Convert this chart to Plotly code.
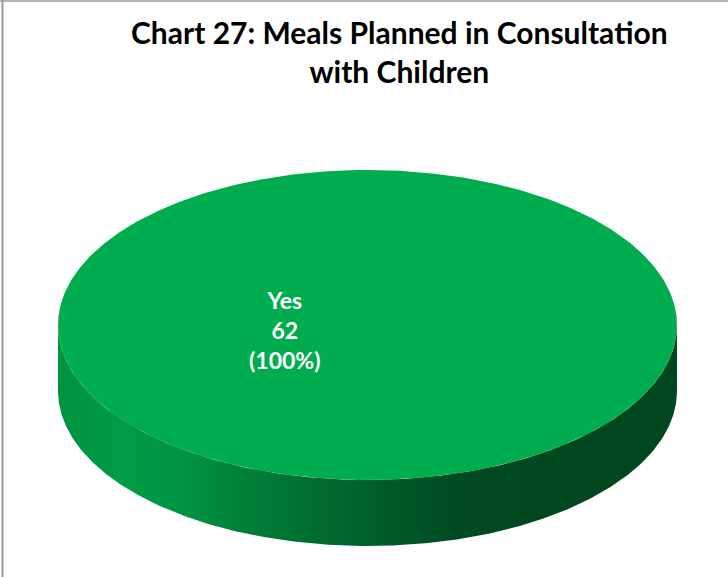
import numpy as np
import plotly.graph_objects as go

# ---- data ----
categories = ["Yes"]
values = [62]
slice_colors = ["#00AD4E"]
title_lines = ["Chart 27: Meals Planned in Consultation", "with Children"]

# ---- geometry / style (layout, not data) ----
W, H = 728, 577
cx, cy = 367.5, 325.0
rx, ry = 309.5, 155.0
depth = 66.0
start_deg = 90.0  # first slice starts at top, clockwise

side_scale = [
    [0.00, "rgb(0,146,64)"],
    [0.10, "rgb(0,156,70)"],
    [0.20, "rgb(0,148,66)"],
    [0.31, "rgb(0,126,56)"],
    [0.45, "rgb(0,104,46)"],
    [0.55, "rgb(0,88,40)"],
    [0.66, "rgb(0,73,33)"],
    [1.00, "rgb(0,70,31)"],
]

total = float(sum(values))
fig = go.Figure()

bounds = []
acc = 0.0
for v in values:
    a0 = np.deg2rad(-start_deg) + 2 * np.pi * acc / total
    acc += v
    a1 = np.deg2rad(-start_deg) + 2 * np.pi * acc / total
    bounds.append((a0, a1))

# side walls (front half only)
for (a0, a1), col in zip(bounds, slice_colors):
    t = np.linspace(a0, a1, 720)
    tt = np.mod(t, 2 * np.pi)
    front = (tt >= 0) & (tt <= np.pi)
    if not front.any():
        continue
    ts = np.sort(tt[front])
    xs = cx + rx * np.cos(ts)
    ys = cy + ry * np.sin(ts)
    px = np.concatenate([xs, xs[::-1]])
    py = np.concatenate([ys, ys[::-1] + depth])
    fig.add_trace(go.Scatter(
        x=px, y=py, mode="lines", fill="toself",
        line=dict(width=0),
        fillgradient=dict(type="horizontal", colorscale=side_scale),
        hoverinfo="skip", showlegend=False,
    ))

# top faces
for (a0, a1), col in zip(bounds, slice_colors):
    t = np.linspace(a0, a1, 721)
    xs = cx + rx * np.cos(t)
    ys = cy + ry * np.sin(t)
    if (a1 - a0) < 2 * np.pi - 1e-9:
        xs = np.concatenate([[cx], xs, [cx]])
        ys = np.concatenate([[cy], ys, [cy]])
    fig.add_trace(go.Scatter(
        x=xs, y=ys, mode="lines", fill="toself",
        fillcolor=col, line=dict(width=0, color=col),
        hoverinfo="skip", showlegend=False,
    ))

# data labels
for cat, v in zip(categories, values):
    pct = 100.0 * v / total
    fig.add_annotation(
        x=cx - 0.265 * rx, y=cy + 5, xref="x", yref="y",
        text=f"<b>{cat}</b><br><b>{v}</b><br><b>({pct:.0f}%)</b>",
        showarrow=False, align="center",
        font=dict(family="Lato, Open Sans, sans-serif", size=23, color="white"),
    )

# title
fig.add_annotation(
    x=399, y=51, xref="x", yref="y",
    text="<br>".join(f"<b>{s}</b>" for s in title_lines),
    showarrow=False, align="center",
    font=dict(family="Lato, Open Sans, sans-serif", size=30, color="black"),
)

fig.update_layout(
    width=W, height=H,
    margin=dict(l=0, r=0, t=0, b=0),
    paper_bgcolor="white", plot_bgcolor="white",
    xaxis=dict(range=[0, W], visible=False, fixedrange=True, domain=[0, 1]),
    yaxis=dict(range=[H, 0], visible=False, fixedrange=True, domain=[0, 1]),
    shapes=[
        dict(type="line", xref="x", yref="y", x0=0, x1=W, y0=1, y1=1,
             line=dict(color="#9a9a9a", width=1.5)),
        dict(type="line", xref="x", yref="y", x0=2.5, x1=2.5, y0=0, y1=H,
             line=dict(color="#9a9a9a", width=2)),
    ],
)

fig.write_html(
    "out.html",
    config={"displayModeBar": False},
    post_script="document.body.style.margin='0';document.body.style.overflow='hidden';",
)
